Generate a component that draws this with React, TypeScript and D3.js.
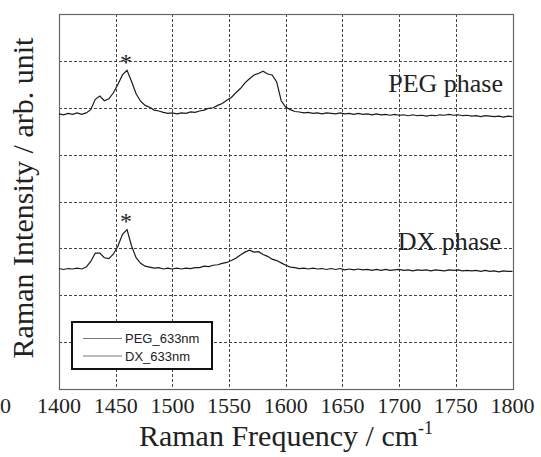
import React, { useEffect, useRef } from 'react';
import * as d3 from 'd3';

// Raman shift, cm^-1 (shared by both spectra)
const wavenumbers: number[] = [
	1400, 1404, 1408, 1412, 1416, 1420, 1424, 1428, 1432, 1436,
	1440, 1444, 1448, 1452, 1456, 1460, 1464, 1468, 1472, 1476,
	1480, 1484, 1488, 1492, 1496, 1500, 1504, 1508, 1512, 1516,
	1520, 1524, 1528, 1532, 1536, 1540, 1544, 1548, 1552, 1556,
	1560, 1564, 1568, 1572, 1576, 1580, 1584, 1588, 1592, 1596,
	1600, 1604, 1608, 1612, 1616, 1620, 1624, 1628, 1632, 1636,
	1640, 1644, 1648, 1652, 1656, 1660, 1664, 1668, 1672, 1676,
	1680, 1684, 1688, 1692, 1696, 1700, 1704, 1708, 1712, 1716,
	1720, 1724, 1728, 1732, 1736, 1740, 1744, 1748, 1752, 1756,
	1760, 1764, 1768, 1772, 1776, 1780, 1784, 1788, 1792, 1796,
	1800,
];

// intensities (arb. unit), offset stacked
const pegValues: number[] = [
	5.87, 5.85, 5.88, 5.86, 5.89, 5.86, 5.89, 5.96, 6.18, 6.25,
	6.15, 6.19, 6.32, 6.50, 6.70, 6.80, 6.56, 6.30, 6.14, 6.05,
	6.01, 5.95, 5.93, 5.90, 5.88, 5.89, 5.87, 5.89, 5.88, 5.91,
	5.90, 5.93, 5.95, 5.99, 6.00, 6.05, 6.09, 6.16, 6.22, 6.32,
	6.41, 6.53, 6.62, 6.70, 6.73, 6.78, 6.72, 6.70, 6.55, 6.15,
	6.01, 5.96, 5.92, 5.91, 5.89, 5.90, 5.88, 5.89, 5.87, 5.89,
	5.88, 5.87, 5.89, 5.87, 5.88, 5.86, 5.88, 5.86, 5.87, 5.85,
	5.87, 5.85, 5.86, 5.84, 5.86, 5.84, 5.85, 5.83, 5.85, 5.83,
	5.84, 5.82, 5.84, 5.83, 5.85, 5.84, 5.86, 5.84, 5.85, 5.83,
	5.84, 5.82, 5.83, 5.81, 5.83, 5.82, 5.81, 5.82, 5.80, 5.82,
	5.81,
];

const dxValues: number[] = [
	2.57, 2.55, 2.57, 2.56, 2.58, 2.56, 2.60, 2.72, 2.90, 2.90,
	2.80, 2.78, 2.88, 3.05, 3.30, 3.40, 3.05, 2.80, 2.68, 2.62,
	2.60, 2.58, 2.59, 2.56, 2.58, 2.56, 2.58, 2.56, 2.58, 2.57,
	2.59, 2.59, 2.62, 2.61, 2.64, 2.65, 2.68, 2.70, 2.74, 2.79,
	2.86, 2.92, 2.96, 2.92, 2.93, 2.87, 2.83, 2.77, 2.74, 2.69,
	2.64, 2.60, 2.59, 2.57, 2.58, 2.56, 2.58, 2.56, 2.57, 2.55,
	2.57, 2.55, 2.57, 2.54, 2.56, 2.54, 2.56, 2.54, 2.55, 2.53,
	2.55, 2.53, 2.55, 2.53, 2.54, 2.55, 2.53, 2.54, 2.52, 2.54,
	2.53, 2.54, 2.52, 2.54, 2.53, 2.52, 2.54, 2.53, 2.54, 2.52,
	2.53, 2.52, 2.53, 2.51, 2.53, 2.51, 2.52, 2.50, 2.52, 2.51,
	2.51,
];

const xTicks: number[] = [1400, 1450, 1500, 1550, 1600, 1650, 1700, 1750, 1800];
const yGrid: number[] = [1, 2, 3, 4, 5, 6, 7];
const legendNames: string[] = ['PEG_633nm', 'DX_633nm'];
const phaseLabels: string[] = ['PEG phase', 'DX phase'];
const starPeak = 1459;

const W = 541;
const H = 457;
const serif = "'Liberation Serif', 'Times New Roman', Times, 'DejaVu Serif', serif";
const sans = "'Liberation Sans', Arial, Helvetica, sans-serif";

const px = (v: number) => Math.round(v) + 0.5;

const RamanChart = () => {
	const svgRef = useRef<SVGSVGElement>(null);

	useEffect(() => {
		const svg = d3.select(svgRef.current);
		svg.selectAll('*').remove();

		const x = d3.scaleLinear().domain([1400, 1800]).range([59, 512.5]);
		const y = d3.scaleLinear().domain([0, 8]).range([389, 14]);

		svg.append('rect').attr('width', W).attr('height', H).attr('fill', '#fff');

		// dotted grid
		const grid = svg.append('g')
			.attr('fill', 'none')
			.attr('stroke', '#444')
			.attr('stroke-width', 1)
			.attr('stroke-dasharray', '3 2');
		xTicks.slice(1, -1).forEach(t => {
			grid.append('line')
				.attr('x1', px(x(t))).attr('x2', px(x(t)))
				.attr('y1', y(8)).attr('y2', y(0));
		});
		yGrid.forEach(v => {
			grid.append('line')
				.attr('x1', x(1400)).attr('x2', x(1800))
				.attr('y1', px(y(v))).attr('y2', px(y(v)));
		});

		// frame
		svg.append('rect')
			.attr('x', px(x(1400))).attr('y', px(y(8)))
			.attr('width', Math.round(x(1800) - x(1400))).attr('height', Math.round(y(0) - y(8)))
			.attr('fill', 'none').attr('stroke', '#666').attr('stroke-width', 1.2);

		// spectra
		const line = d3.line<number>()
			.x((_, i) => x(wavenumbers[i]))
			.y(d => y(d));
		[pegValues, dxValues].forEach(vals => {
			svg.append('path')
				.attr('d', line(vals))
				.attr('fill', 'none')
				.attr('stroke', '#1a1a1a')
				.attr('stroke-width', 1.2);
		});

		const txt = (sel: d3.Selection<any, any, any, any>, family: string, size: number) =>
			sel.attr('font-family', family).attr('font-size', size).attr('fill', '#222');

		// peak markers
		[6.80, 3.40].forEach(v => {
			txt(svg.append('text'), serif, 24)
				.attr('x', x(starPeak)).attr('y', y(v) - 0.5)
				.attr('text-anchor', 'middle')
				.text('*');
		});

		// phase labels
		txt(svg.append('text'), serif, 26)
			.attr('x', 503).attr('y', 91.5)
			.attr('text-anchor', 'end')
			.text(phaseLabels[0]);
		txt(svg.append('text'), serif, 26)
			.attr('x', 501).attr('y', 249.5)
			.attr('text-anchor', 'end')
			.text(phaseLabels[1]);

		// legend
		const lg = svg.append('g');
		lg.append('rect')
			.attr('x', 72).attr('y', 322).attr('width', 140).attr('height', 47)
			.attr('fill', '#fff').attr('stroke', '#111').attr('stroke-width', 2);
		legendNames.forEach((name, i) => {
			const ly = 338.5 + i * 17.5;
			lg.append('line')
				.attr('x1', 83).attr('x2', 122).attr('y1', ly).attr('y2', ly)
				.attr('stroke', '#777').attr('stroke-width', 1);
			txt(lg.append('text'), sans, 13)
				.attr('x', 125).attr('y', ly + 4.5)
				.text(name);
		});

		// x tick labels
		xTicks.forEach(t => {
			txt(svg.append('text'), serif, 22)
				.attr('x', x(t)).attr('y', 413)
				.attr('text-anchor', 'middle')
				.text(t);
		});
		// label of the neighbouring panel, cut at the edge
		txt(svg.append('text'), serif, 22)
			.attr('x', 0).attr('y', 413)
			.text('0');

		// axis titles
		const xt = txt(svg.append('text'), serif, 30)
			.attr('x', 286).attr('y', 446)
			.attr('text-anchor', 'middle');
		xt.append('tspan').text('Raman Frequency / cm');
		xt.append('tspan').attr('dy', -12).attr('font-size', 18).text('-1');

		txt(svg.append('text'), serif, 30)
			.attr('transform', 'translate(33,198) rotate(-90)')
			.attr('text-anchor', 'middle')
			.text('Raman Intensity / arb. unit');
	}, []);

	return (
		<svg
			ref={svgRef}
			width={W}
			height={H}
			style={{ position: 'absolute', left: 0, top: 0, display: 'block' }}
		/>
	);
};

export default function App() {
	return <RamanChart />;
}
